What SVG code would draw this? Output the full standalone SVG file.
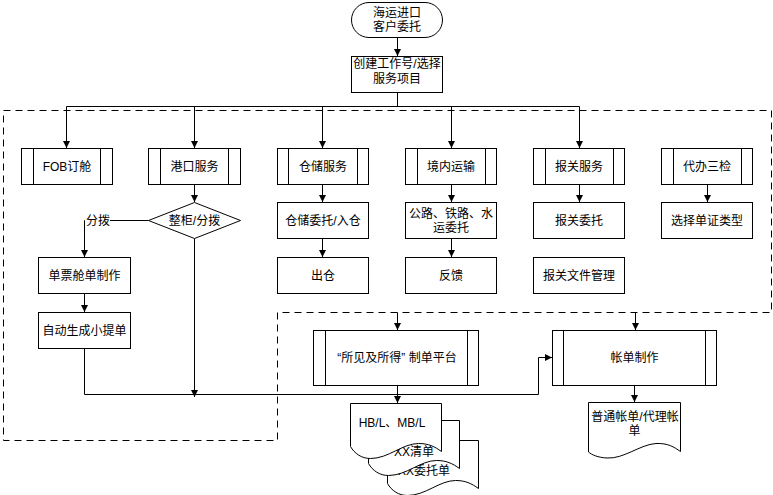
<svg xmlns="http://www.w3.org/2000/svg" width="773" height="495" viewBox="0 0 773 495">
<style>
.b{fill:#fff;stroke:#000;stroke-width:1}
.l{fill:none;stroke:#000;stroke-width:1}
.d{fill:none;stroke:#000;stroke-width:1;stroke-dasharray:7 5}
.t{font-family:"Liberation Sans","Noto Sans CJK SC",sans-serif;font-size:12px;text-anchor:middle;fill:#000}
.s{text-anchor:start}
</style>
<defs>
<marker id="a" markerWidth="7" markerHeight="7" refX="7" refY="3.5" orient="auto" markerUnits="userSpaceOnUse"><path d="M0,0 L7,3.5 L0,7 z" fill="#000"/></marker>
</defs>
<rect width="773" height="495" fill="#fff"/>
<g id="boundary"><polygon class="d" points="3.5,110.5 771.5,110.5 771.5,312.5 277.5,312.5 277.5,440.5 3.5,440.5"/></g>
<g id="connectors">
<path class="l" d="M397.5,37.5 V56" marker-end="url(#a)"/>
<path class="l" d="M397.5,92.5 V106.5 M66.5,106.5 H579.5"/>
<path class="l" d="M66.5,106.5 V148" marker-end="url(#a)"/>
<path class="l" d="M194.5,106.5 V148" marker-end="url(#a)"/>
<path class="l" d="M322.5,106.5 V148" marker-end="url(#a)"/>
<path class="l" d="M451.5,106.5 V148" marker-end="url(#a)"/>
<path class="l" d="M579.5,106.5 V148" marker-end="url(#a)"/>
<path class="l" d="M194.5,184.5 V202" marker-end="url(#a)"/>
<path class="l" d="M148.5,220.5 H84.5 V257" marker-end="url(#a)"/>
<path class="l" d="M84.5,293.5 V312" marker-end="url(#a)"/>
<path class="l" d="M84.5,348.5 V394.5 H538.5 V357.5 H552" marker-end="url(#a)"/>
<path class="l" d="M194.5,238.5 V397" marker-end="url(#a)"/>
<path class="l" d="M322.5,184.5 V202" marker-end="url(#a)"/>
<path class="l" d="M322.5,238.5 V257" marker-end="url(#a)"/>
<path class="l" d="M451.5,184.5 V202" marker-end="url(#a)"/>
<path class="l" d="M451.5,238.5 V257" marker-end="url(#a)"/>
<path class="l" d="M579.5,184.5 V202" marker-end="url(#a)"/>
<path class="l" d="M707.5,184.5 V202" marker-end="url(#a)"/>
<path class="l" d="M397.5,312.5 V330" marker-end="url(#a)"/>
<path class="l" d="M635.5,312.5 V330" marker-end="url(#a)"/>
<path class="l" d="M397.5,385.5 V403" marker-end="url(#a)"/>
<path class="l" d="M634.5,385.5 V402" marker-end="url(#a)"/>
<rect x="85" y="213" width="25" height="15" fill="#fff"/>
<text class="t s" x="86" y="225">分拨</text>
</g>
<g id="start"><rect class="b" x="351.5" y="2.5" width="91" height="35" rx="17.5"/><text class="t" x="397" y="17">海运进口<tspan x="397" dy="14">客户委托</tspan></text></g>
<g id="create"><rect class="b" x="351.5" y="56.5" width="91" height="36"/><text class="t" x="397" y="68">创建工作号/选择<tspan x="397" dy="15">服务项目</tspan></text></g>
<g id="fob"><rect class="b" x="21.5" y="148.5" width="91" height="36"/><path class="l" d="M33.5,148.5 V184.5 M100.5,148.5 V184.5"/><text class="t" x="67" y="171">FOB订舱</text></g>
<g id="port"><rect class="b" x="148.5" y="148.5" width="92" height="36"/><path class="l" d="M160.5,148.5 V184.5 M228.5,148.5 V184.5"/><text class="t" x="194.5" y="171">港口服务</text></g>
<g id="warehouse"><rect class="b" x="277.5" y="148.5" width="91" height="36"/><path class="l" d="M288.5,148.5 V184.5 M357.5,148.5 V184.5"/><text class="t" x="323" y="171">仓储服务</text></g>
<g id="inland"><rect class="b" x="405.5" y="148.5" width="91" height="36"/><path class="l" d="M417.5,148.5 V184.5 M485.5,148.5 V184.5"/><text class="t" x="451" y="171">境内运输</text></g>
<g id="customs"><rect class="b" x="533.5" y="148.5" width="91" height="36"/><path class="l" d="M545.5,148.5 V184.5 M613.5,148.5 V184.5"/><text class="t" x="579" y="171">报关服务</text></g>
<g id="inspect"><rect class="b" x="661.5" y="148.5" width="91" height="36"/><path class="l" d="M673.5,148.5 V184.5 M741.5,148.5 V184.5"/><text class="t" x="707" y="171">代办三检</text></g>
<g id="decision"><polygon class="b" points="194.5,202.5 240.5,220.5 194.5,238.5 148.5,220.5"/><text class="t" x="194.5" y="225">整柜/分拨</text></g>
<g id="wh-entrust"><rect class="b" x="277.5" y="202.5" width="91" height="36"/><text class="t" x="323" y="225">仓储委托/入仓</text></g>
<g id="road-entrust"><rect class="b" x="405.5" y="202.5" width="91" height="36"/><text class="t" x="451" y="218">公路、铁路、水<tspan x="451" dy="14">运委托</tspan></text></g>
<g id="customs-entrust"><rect class="b" x="533.5" y="202.5" width="91" height="36"/><text class="t" x="579" y="225">报关委托</text></g>
<g id="doc-type"><rect class="b" x="661.5" y="202.5" width="91" height="36"/><text class="t" x="707" y="225">选择单证类型</text></g>
<g id="manifest"><rect class="b" x="38.5" y="257.5" width="92" height="36"/><text class="t" x="84.5" y="280">单票舱单制作</text></g>
<g id="outbound"><rect class="b" x="277.5" y="257.5" width="91" height="36"/><text class="t" x="323" y="280">出仓</text></g>
<g id="feedback"><rect class="b" x="405.5" y="257.5" width="91" height="36"/><text class="t" x="451" y="280">反馈</text></g>
<g id="customs-docs"><rect class="b" x="533.5" y="257.5" width="91" height="36"/><text class="t" x="579" y="280">报关文件管理</text></g>
<g id="hbl"><rect class="b" x="38.5" y="312.5" width="92" height="36"/><text class="t" x="84.5" y="335">自动生成小提单</text></g>
<g id="platform"><rect class="b" x="313.5" y="330.5" width="165" height="55"/><path class="l" d="M325.5,330.5 V385.5 M467.5,330.5 V385.5"/><text class="t" x="397" y="362">“所见及所得” 制单平台</text></g>
<g id="billing"><rect class="b" x="552.5" y="330.5" width="164" height="55"/><path class="l" d="M563.5,330.5 V385.5 M705.5,330.5 V385.5"/><text class="t" x="634.5" y="362">帐单制作</text></g>
<g id="bill-doc"><path class="b" d="M588.5,402.5 H680.5 V451.5 C674,447 668,443 656,443.5 C640,444.5 624,459 607,458 C598,457.5 592,455 588.5,452 Z"/><text class="t" x="635" y="421">普通帐单/代理帐<tspan x="634.5" dy="14">单</tspan></text></g>
<g id="doc-stack">
<path class="b" d="M387.5,440.5 H478.5 V488.5 C471.5,483.5 465.5,480.5 455.5,480.5 C439.5,480.5 425.5,495.5 407.5,495.5 C398.5,495.5 391.5,490.5 387.5,483.5 Z"/>
<text class="t s" x="398" y="475">XX委托单</text>
<path class="b" d="M368.5,420.5 H459.5 V468.5 C452.5,463.5 446.5,460.5 436.5,460.5 C420.5,460.5 406.5,475.5 388.5,475.5 C379.5,475.5 372.5,470.5 368.5,463.5 Z"/>
<text class="t s" x="394" y="456">XX清单</text>
<path class="b" d="M350.5,403.5 H441.5 V451.5 C434.5,446.5 428.5,443.5 418.5,443.5 C402.5,443.5 388.5,458.5 370.5,458.5 C361.5,458.5 354.5,453.5 350.5,446.5 Z"/>
<text class="t" x="392" y="427">HB/L、MB/L</text>
</g>
</svg>
